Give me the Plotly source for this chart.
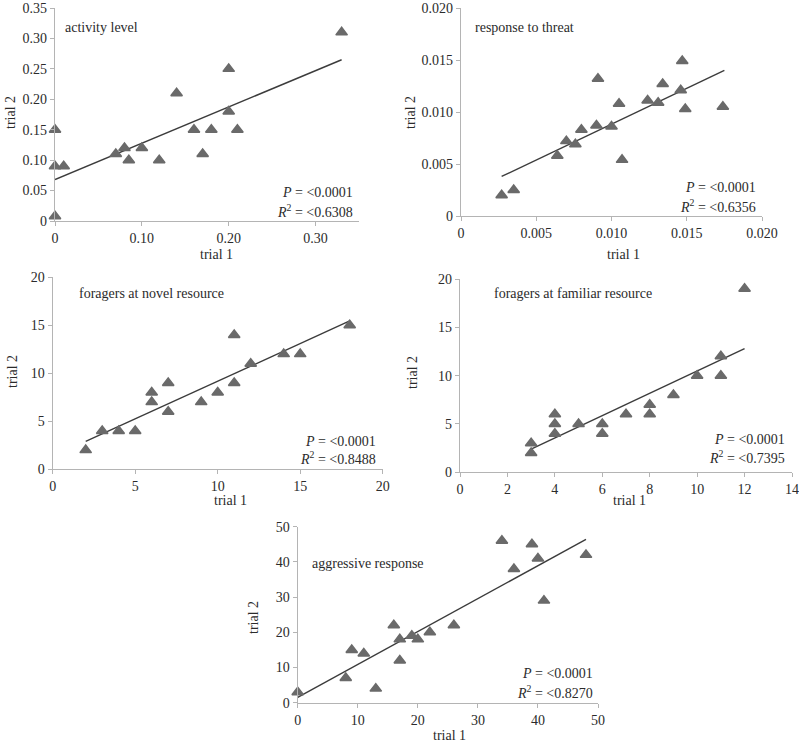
import plotly.graph_objects as go

W, H = 799, 742

# ---------------- data ----------------
# activity level
act_t1 = [0, 0, 0.01, 0, 0.07, 0.08, 0.085, 0.10, 0.12, 0.14, 0.16, 0.17, 0.18, 0.20, 0.20, 0.21, 0.33]
act_t2 = [0.15, 0.09, 0.09, 0.008, 0.11, 0.12, 0.10, 0.12, 0.10, 0.21, 0.15, 0.11, 0.15, 0.25, 0.18, 0.15, 0.31]
act_fit_x = [0, 0.33]
act_fit_y = [0.068, 0.265]

# response to threat
thr_t1 = [0.0027, 0.0035, 0.0064, 0.0070, 0.0076, 0.0080, 0.0090, 0.0091, 0.0100, 0.0105,
          0.0107, 0.0124, 0.0131, 0.0134, 0.0146, 0.0147, 0.0149, 0.0174]
thr_t2 = [0.0020, 0.0025, 0.0058, 0.0072, 0.0069, 0.0083, 0.0087, 0.0132, 0.0086, 0.0108,
          0.0054, 0.0111, 0.0109, 0.0127, 0.0121, 0.0149, 0.0103, 0.0105]
thr_fit_x = [0.0027, 0.0175]
thr_fit_y = [0.0038, 0.0140]

# foragers at novel resource
nov_t1 = [2, 3, 4, 5, 6, 6, 7, 7, 9, 10, 11, 11, 12, 14, 15, 18]
nov_t2 = [2, 4, 4, 4, 8, 7, 9, 6, 7, 8, 14, 9, 11, 12, 12, 15]
nov_fit_x = [2, 18]
nov_fit_y = [2.9, 15.45]

# foragers at familiar resource
fam_t1 = [3, 3, 4, 4, 4, 5, 6, 6, 7, 8, 8, 9, 10, 11, 11, 12]
fam_t2 = [3, 2, 6, 5, 4, 5, 5, 4, 6, 7, 6, 8, 10, 12, 10, 19]
fam_fit_x = [3, 12]
fam_fit_y = [2.4, 12.8]

# aggressive response
agg_t1 = [0, 8, 9, 11, 13, 16, 17, 17, 19, 20, 22, 26, 34, 36, 39, 40, 41, 48]
agg_t2 = [3, 7, 15, 14, 4, 22, 18, 12, 19, 18, 20, 22, 46, 38, 45, 41, 29, 42]
agg_fit_x = [0, 48]
agg_fit_y = [1.5, 46.4]

titles = ["activity level", "response to threat", "foragers at novel resource",
          "foragers at familiar resource", "aggressive response"]
r2_labels = ["0.6308", "0.6356", "0.8488", "0.7395", "0.8270"]
p_label = "0.0001"

x_ticks = [[0, 0.10, 0.20, 0.30], [0, 0.005, 0.010, 0.015, 0.020],
           [0, 5, 10, 15, 20], [0, 2, 4, 6, 8, 10, 12, 14], [0, 10, 20, 30, 40, 50]]
x_ticktext = [["0", "0.10", "0.20", "0.30"], ["0", "0.005", "0.010", "0.015", "0.020"],
              ["0", "5", "10", "15", "20"], ["0", "2", "4", "6", "8", "10", "12", "14"],
              ["0", "10", "20", "30", "40", "50"]]
y_ticks = [[0, 0.05, 0.10, 0.15, 0.20, 0.25, 0.30, 0.35], [0, 0.005, 0.010, 0.015, 0.020],
           [0, 5, 10, 15, 20], [0, 5, 10, 15, 20], [0, 10, 20, 30, 40, 50]]
y_ticktext = [["0", "0.05", "0.10", "0.15", "0.20", "0.25", "0.30", "0.35"],
              ["0", "0.005", "0.010", "0.015", "0.020"],
              ["0", "5", "10", "15", "20"], ["0", "5", "10", "15", "20"],
              ["0", "10", "20", "30", "40", "50"]]
x_ranges = [[0, 0.35], [0, 0.020], [0, 20], [0, 14], [0, 50]]
y_ranges = [[0, 0.35], [0, 0.020], [0, 20], [0, 20], [0, 50]]

series = [(act_t1, act_t2, act_fit_x, act_fit_y), (thr_t1, thr_t2, thr_fit_x, thr_fit_y),
          (nov_t1, nov_t2, nov_fit_x, nov_fit_y), (fam_t1, fam_t2, fam_fit_x, fam_fit_y),
          (agg_t1, agg_t2, agg_fit_x, agg_fit_y)]

# ---------------- layout geometry (pixels) ----------------
# plot boxes: left, right, top, bottom
boxes = [(55, 359, 8, 221), (461, 762, 8, 216), (52.7, 382.7, 277.3, 469.3),
         (460, 792, 279, 472.3), (297.7, 598, 526.7, 702.7)]
title_pos = [(63, 27), (473, 27), (77, 293), (492, 293), (310, 563)]
stat_pos = [(355, 193, 211), (758, 188, 206), (378, 441, 458), (787, 439, 457), (595, 673, 692)]
xt_pos = [(216, 254), (623, 255), (230, 501), (629, 501), (449, 735)]
yt_pos = [(10, 113), (410, 113), (12, 372), (412, 373), (253, 617)]

FONT = "Liberation Serif"
TXT = "#2b2b2b"
AXC = "#b4b4b4"

def px(x):
    return x / W

def py(y):
    return 1 - y / H

fig = go.Figure()
annotations = []
layout = dict(width=W, height=H, margin=dict(l=0, r=0, t=0, b=0, autoexpand=False),
              paper_bgcolor="white", plot_bgcolor="white", showlegend=False,
              font=dict(family=FONT, size=14, color=TXT))

for i, (t1, t2, fx, fy) in enumerate(series):
    n = i + 1
    xa = "x" if n == 1 else f"x{n}"
    ya = "y" if n == 1 else f"y{n}"
    fig.add_trace(go.Scatter(x=fx, y=fy, mode="lines", xaxis=xa, yaxis=ya,
                             line=dict(color="#3c3c3c", width=1.4), cliponaxis=False))
    fig.add_trace(go.Scatter(x=t1, y=t2, mode="markers", xaxis=xa, yaxis=ya, cliponaxis=False,
                             marker=dict(symbol="triangle-up", size=10, color="#6a6a6a",
                                         line=dict(color="#6a6a6a", width=1.5))))
    l, r, t, b = boxes[i]
    common = dict(showgrid=False, zeroline=False, showline=True, linecolor=AXC, linewidth=1.3,
                  ticks="outside", ticklen=4, tickcolor=AXC, tickwidth=1.3, automargin=False,
                  tickfont=dict(family=FONT, size=14, color=TXT))
    layout["xaxis" if n == 1 else f"xaxis{n}"] = dict(
        domain=[px(l), px(r)], range=x_ranges[i], anchor=ya,
        tickvals=x_ticks[i], ticktext=x_ticktext[i], **common)
    layout["yaxis" if n == 1 else f"yaxis{n}"] = dict(
        domain=[py(b), py(t)], range=y_ranges[i], anchor=xa,
        tickvals=y_ticks[i], ticktext=y_ticktext[i], **common)

    tx, ty = title_pos[i]
    annotations.append(dict(text=titles[i], x=px(tx), y=py(ty), xref="paper", yref="paper",
                            xanchor="left", yanchor="middle", showarrow=False,
                            font=dict(family=FONT, size=14, color=TXT)))
    sx, sy1, sy2 = stat_pos[i]
    annotations.append(dict(text=f"<i>P</i> = &lt;{p_label}", x=px(sx), y=py(sy1),
                            xref="paper", yref="paper", xanchor="right", yanchor="middle",
                            showarrow=False, font=dict(family=FONT, size=14, color=TXT)))
    annotations.append(dict(text=f"<i>R</i><sup>2</sup> = &lt;{r2_labels[i]}", x=px(sx), y=py(sy2),
                            xref="paper", yref="paper", xanchor="right", yanchor="middle",
                            showarrow=False, font=dict(family=FONT, size=14, color=TXT)))
    ax_, ay_ = xt_pos[i]
    annotations.append(dict(text="trial 1", x=px(ax_), y=py(ay_), xref="paper", yref="paper",
                            xanchor="center", yanchor="middle", showarrow=False,
                            font=dict(family=FONT, size=14, color=TXT)))
    bx, by = yt_pos[i]
    annotations.append(dict(text="trial 2", x=px(bx), y=py(by), xref="paper", yref="paper",
                            xanchor="center", yanchor="middle", showarrow=False, textangle=-90,
                            font=dict(family=FONT, size=14, color=TXT)))

layout["annotations"] = annotations
fig.update_layout(**layout)
fig.write_html("out.html", config={"displayModeBar": False},
               post_script="document.body.style.margin='0';document.body.style.overflow='hidden';")
